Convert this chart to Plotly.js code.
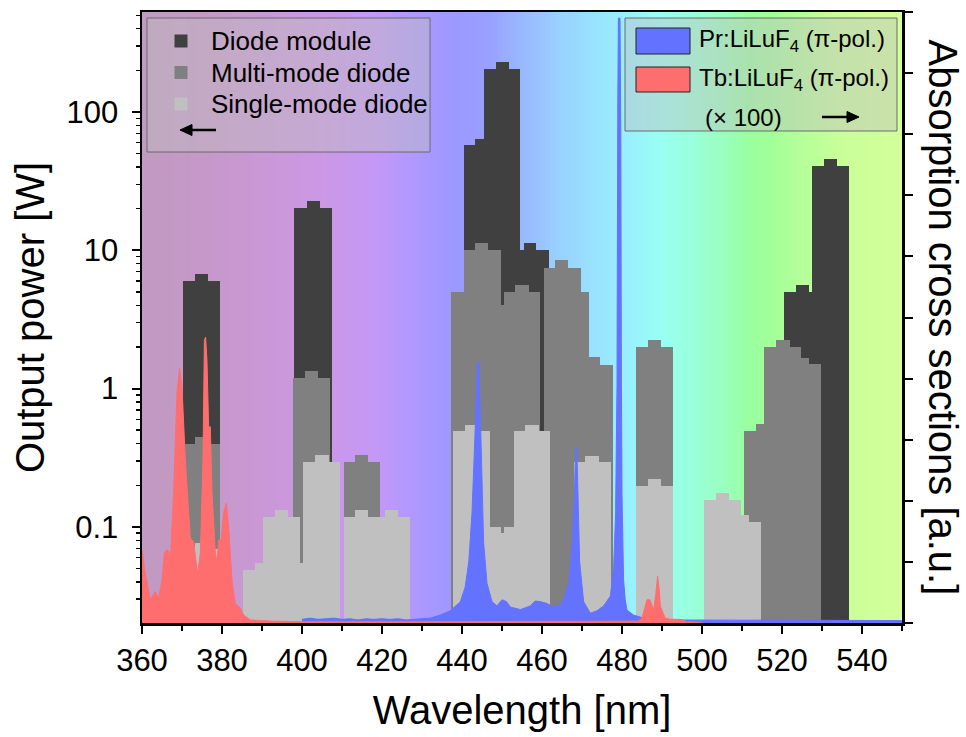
<!DOCTYPE html>
<html><head><meta charset="utf-8">
<script src="https://cdn.plot.ly/plotly-3.0.1.min.js"></script>
<style>html,body{margin:0;padding:0;background:#fff}#chart{width:966px;height:737px}</style>
</head><body><div id="chart"></div>
<script>
// ---------- data ----------
const moduleStart = [370.3, 373.15, 376.6, 398.1, 401.25, 404.6, 440.4, 443.3, 445.4, 448.4, 451.65, 454.6, 455.4, 458.6, 520.6, 523.6, 526.8, 527.5, 530.6, 533.75];
const moduleEnd   = [373.15, 376.6, 379.5, 401.25, 404.6, 407.5, 443.3, 445.4, 448.4, 451.65, 454.6, 455.4, 458.6, 461.7, 523.6, 526.8, 527.5, 530.6, 533.75, 536.8];
const modulePower = [6.0, 6.7, 6.0, 20.3, 22.7, 20.3, 58, 64, 206, 230, 206, 10.0, 11.2, 10.0, 5.0, 5.6, 5.0, 40.9, 45.5, 40.9];

const multiStart = [370.8, 373.15, 376.6, 397.8, 400.75, 404.1, 410.4, 413.3, 416.5, 437.3, 440.4, 443.3, 446.6, 449.7, 450.4, 453.3, 456.65, 460.4, 463.3, 466.6, 469.75, 471.65, 474.5, 483.5, 486.5, 489.75, 510.6, 513.6, 515.6, 518.6, 521.9, 524.8, 526.8];
const multiEnd   = [373.15, 376.6, 379.5, 400.75, 404.1, 407.1, 413.3, 416.5, 419.6, 440.4, 443.3, 446.6, 449.7, 450.4, 453.3, 456.65, 459.6, 463.3, 466.6, 469.75, 471.65, 474.5, 477.65, 486.5, 489.75, 492.75, 513.6, 515.6, 518.6, 521.9, 524.8, 526.8, 529.8];
const multiPower = [0.40, 0.445, 0.40, 1.2, 1.34, 1.2, 0.296, 0.331, 0.296, 5.0, 10.05, 11.2, 10.05, 4.0, 5.0, 5.6, 5.0, 7.47, 8.45, 7.47, 5.0, 1.68, 1.49, 2.01, 2.24, 2.01, 0.496, 0.552, 2.01, 2.24, 2.01, 1.67, 1.5];

const singleStart = [371.0, 373.15, 376.6, 385.25, 388.3, 390.3, 393.3, 396.5, 399.6, 400.25, 403.3, 406.65, 410.4, 413.3, 416.5, 420.8, 424.0, 437.75, 440.8, 444.15, 447.1, 449.8, 450.4, 452.9, 455.8, 459.15, 467.9, 470.8, 474.15, 483.5, 486.5, 489.75, 500.6, 503.5, 506.8, 509.75, 511.8];
const singleEnd   = [373.15, 376.6, 379.5, 388.3, 390.3, 393.3, 396.5, 399.6, 400.25, 403.3, 406.65, 409.6, 413.3, 416.5, 420.8, 424.0, 427.1, 440.8, 444.15, 447.1, 449.8, 450.4, 452.9, 455.8, 459.15, 462.1, 470.8, 474.15, 477.25, 486.5, 489.75, 492.75, 503.5, 506.8, 509.75, 511.8, 514.8];
const singlePower = [0.069, 0.077, 0.069, 0.049, 0.055, 0.118, 0.132, 0.118, 0.055, 0.296, 0.331, 0.296, 0.118, 0.132, 0.118, 0.132, 0.118, 0.496, 0.547, 0.496, 0.099, 0.091, 0.099, 0.496, 0.547, 0.496, 0.295, 0.328, 0.295, 0.198, 0.221, 0.198, 0.157, 0.175, 0.157, 0.122, 0.109];

const prWavelength = [400, 402, 404, 406, 408, 410, 412, 414, 416, 418, 420, 422, 424, 426, 428, 430, 432.1, 434.6, 437.1, 439.6, 440.8, 441.7, 442.5, 443.2, 443.6, 443.85, 444.25, 444.6, 445.0, 445.4, 446.25, 447.5, 448.75, 450.0, 451.1, 452.1, 454.6, 457.1, 458.3, 459.6, 461.25, 462.9, 465.0, 466.7, 467.5, 468.1, 468.4, 468.7, 469.0, 469.4, 470.4, 472.1, 473.75, 475.4, 477.1, 477.9, 478.4, 478.75, 478.95, 479.1, 479.5, 479.7, 479.85, 480.0, 480.4, 480.8, 481.25, 482.9, 485.4, 488, 491.25, 495, 500, 505, 510, 515, 520, 525, 530, 535, 540, 545, 550];
const prCross = [0.06, 0.08, 0.06, 0.07, 0.08, 0.06, 0.07, 0.05, 0.07, 0.06, 0.07, 0.06, 0.07, 0.05, 0.06, 0.07, 0.08, 0.13, 0.20, 0.35, 0.59, 1.01, 1.80, 3.00, 4.04, 4.27, 4.27, 3.32, 2.10, 1.32, 0.65, 0.35, 0.28, 0.38, 0.35, 0.26, 0.22, 0.28, 0.36, 0.35, 0.32, 0.26, 0.32, 0.65, 1.26, 2.10, 2.86, 2.87, 2.10, 1.01, 0.35, 0.16, 0.20, 0.28, 0.44, 0.89, 1.80, 3.90, 8.50, 9.90, 9.90, 8.00, 4.00, 2.10, 0.70, 0.38, 0.21, 0.13, 0.08, 0.06, 0.05, 0.05, 0.04, 0.05, 0.04, 0.05, 0.04, 0.05, 0.04, 0.05, 0.04, 0.05, 0.04];

const tbWavelength = [360.0, 360.24, 360.6, 361.24, 362.08, 362.7, 363.33, 364.16, 365.0, 365.6, 366.2, 366.7, 367.1, 367.9, 368.74, 369.4, 369.99, 370.83, 371.5, 372.08, 372.9, 373.9, 374.6, 375.24, 375.6, 375.9, 376.24, 376.66, 377.08, 377.5, 378.3, 378.74, 379.16, 379.8, 380.4, 381.07, 381.66, 382.5, 383.3, 384.6, 385.4, 387.1, 392.9, 400, 420, 440, 460, 480, 484, 485.0, 485.6, 486.25, 487.0, 487.9, 488.5, 488.9, 489.3, 489.6, 490.8, 492.0, 494.6, 496.2, 500];
const tbCross = [1.20, 1.11, 0.90, 0.70, 0.38, 0.45, 0.51, 0.41, 0.70, 1.15, 1.20, 1.17, 1.03, 2.13, 3.76, 4.17, 3.87, 2.67, 1.90, 1.39, 1.33, 0.81, 1.15, 2.67, 4.63, 4.68, 4.30, 3.21, 3.21, 2.13, 1.19, 0.98, 1.36, 1.36, 1.80, 1.96, 1.58, 0.70, 0.32, 0.24, 0.13, 0.05, 0.03, 0.02, 0.02, 0.02, 0.02, 0.02, 0.03, 0.08, 0.25, 0.38, 0.38, 0.21, 0.50, 0.77, 0.55, 0.27, 0.08, 0.06, 0.06, 0.02, 0.01];

const yTickValues = [0.1, 1, 10, 100];
const yTickLabels = ['0.1', '1', '10', '100'];
const seriesNames = ['Diode module', 'Multi-mode diode', 'Single-mode diode'];
const crystalNames = ['Pr:LiLuF<sub>4</sub> (π-pol.)', 'Tb:LiLuF<sub>4</sub> (π-pol.)'];

// background spectrum stops
const bgStopWavelength = [360, 375, 390, 405, 418, 428, 438, 446, 455, 465, 475, 482, 490, 498, 505, 512, 518, 526, 534, 550];
const bgStopColor = [[192,154,192],[197,152,200],[202,152,214],[204,152,230],[196,152,246],[176,152,255],[156,152,255],[153,159,255],[153,184,255],[153,210,255],[153,230,255],[153,240,255],[153,255,243],[153,255,218],[153,255,192],[153,255,159],[164,255,153],[184,255,153],[200,255,153],[212,255,153]];

// ---------- build ----------
const FONT = 'Liberation Sans, Arial, sans-serif';
const barColors = ['#404040', '#808080', '#C0C0C0'];
const specColors = ['#6373FF', '#FF6E6E'];
function barTrace(name, s, e, v, color) {
  return {type:'bar', name:name, x:s.map((a,i)=>(a+e[i])/2), width:s.map((a,i)=>e[i]-a), y:v,
    marker:{color:color, line:{width:0}}, hoverinfo:'skip', showlegend:false};
}
function bgColorAt(w) {
  for (let i=0;i<bgStopWavelength.length-1;i++) {
    const a=bgStopWavelength[i], b=bgStopWavelength[i+1];
    if (w>=a && w<=b) {
      const t=(w-a)/(b-a);
      const c=bgStopColor[i].map((v,k)=>Math.round(v+(bgStopColor[i+1][k]-v)*t));
      return 'rgb('+c.join(',')+')';
    }
  }
  return 'rgb('+bgStopColor[bgStopColor.length-1].join(',')+')';
}
const shapes=[];
for (let w=360; w<550; w+=1) {
  shapes.push({type:'rect', xref:'x', yref:'paper', x0:w, x1:w+1.05, y0:0, y1:1, fillcolor:bgColorAt(w+0.5), line:{width:0}, layer:'below'});
}
// plot-area geometry helpers (paper coords from pixel layout)
const L=142, R=902, T=12, B=623;
const px=p=>(p-L)/(R-L), py=p=>(B-p)/(B-T);
const box=(x0,x1,y0,y1,fill,lc,lw)=>({type:'rect', xref:'paper', yref:'paper', x0:px(x0), x1:px(x1), y0:py(y1), y1:py(y0), fillcolor:fill, line:{color:lc, width:lw}, layer:'above'});
const arrow=(xTail,xTip,y)=>{
  const d=Math.sign(xTip-xTail);
  const base=xTip-d*12;
  return [
    {type:'line', xref:'paper', yref:'paper', x0:px(xTail), x1:px(base), y0:py(y), y1:py(y), line:{color:'#000', width:2.5}, layer:'above'},
    {type:'path', xref:'paper', yref:'paper', path:'M'+px(base)+','+py(y-5.5)+' L'+px(xTip)+','+py(y)+' L'+px(base)+','+py(y+5.5)+' Z', fillcolor:'#000', line:{color:'#000', width:1}, layer:'above'}
  ];
};
// legend boxes
shapes.push(box(147,430,18,152,'rgba(190,190,190,0.45)','#6a6a6a',1));
shapes.push(box(625,897,18,131,'rgba(190,190,190,0.45)','#6a6a6a',1));
const legendRowY=[41,72.5,104];
barColors.forEach((c,i)=>shapes.push(box(174.5,187.5,legendRowY[i]-6.5,legendRowY[i]+6.5,c,c,0)));
shapes.push(box(636,690,28,54,specColors[0],'#222',1));
shapes.push(box(636,690,67,92,specColors[1],'#222',1));
arrow(216,180,130).forEach(s=>shapes.push(s));
arrow(822,859,117).forEach(s=>shapes.push(s));

const data = [
  barTrace(seriesNames[0], moduleStart, moduleEnd, modulePower, barColors[0]),
  barTrace(seriesNames[1], multiStart, multiEnd, multiPower, barColors[1]),
  barTrace(seriesNames[2], singleStart, singleEnd, singlePower, barColors[2]),
  {type:'scatter', mode:'lines', name:crystalNames[0], x:prWavelength, y:prCross, yaxis:'y2', fill:'tozeroy', fillcolor:specColors[0], line:{color:specColors[0], width:1}, showlegend:false, hoverinfo:'skip'},
  {type:'scatter', mode:'lines', name:crystalNames[1], x:tbWavelength, y:tbCross, yaxis:'y2', fill:'tozeroy', fillcolor:specColors[1], line:{color:specColors[1], width:1}, showlegend:false, hoverinfo:'skip'}
];

const annotations = [
  {xref:'paper', yref:'paper', x:1.0+(943-R)/(R-L), y:0.5, text:'Absorption cross sections [a.u.]', textangle:90, showarrow:false,
    font:{size:40, family:FONT}, xanchor:'center', yanchor:'middle'},
  {xref:'paper', yref:'paper', x:px(697), y:py(41), text:crystalNames[0], showarrow:false, xanchor:'left', yanchor:'middle', font:{size:24, family:FONT}},
  {xref:'paper', yref:'paper', x:px(697), y:py(80), text:crystalNames[1], showarrow:false, xanchor:'left', yanchor:'middle', font:{size:24, family:FONT}},
  {xref:'paper', yref:'paper', x:px(703), y:py(117), text:'(× 100)', showarrow:false, xanchor:'left', yanchor:'middle', font:{size:24, family:FONT}}
];
seriesNames.forEach((n,i)=>annotations.push({xref:'paper', yref:'paper', x:px(209), y:py(legendRowY[i]), text:n, showarrow:false, xanchor:'left', yanchor:'middle', font:{size:26, family:FONT}}));

const layout = {
  width:966, height:737, margin:{l:L, r:966-R, t:T, b:737-B},
  paper_bgcolor:'#ffffff', plot_bgcolor:'rgba(0,0,0,0)',
  barmode:'overlay', bargap:0, showlegend:false,
  font:{family:FONT, color:'#000'},
  xaxis:{range:[360,550], dtick:20, tick0:360, ticks:'outside', ticklen:8, tickwidth:2, tickcolor:'#000',
    showline:true, linewidth:2.5, linecolor:'#000', mirror:true, showgrid:false, zeroline:false,
    tickfont:{size:31, family:FONT}, minor:{dtick:10, ticks:'outside', ticklen:5, tickwidth:2, tickcolor:'#000'},
    title:{text:'Wavelength [nm]', font:{size:40, family:FONT}, standoff:20}},
  yaxis:{type:'log', range:[-1.695, 2.723], tickvals:yTickValues, ticktext:yTickLabels, ticks:'outside', ticklen:8, tickwidth:2,
    tickcolor:'#000', showline:true, linewidth:2.5, linecolor:'#000', showgrid:false, zeroline:false, ticklabelstandoff:7,
    tickfont:{size:31, family:FONT}, minor:{dtick:'D1', ticks:'outside', ticklen:4, tickwidth:1.5, tickcolor:'#000'},
    title:{text:'Output power [W]', font:{size:40, family:FONT}, standoff:10}},
  yaxis2:{overlaying:'y', side:'right', range:[0,10], dtick:1, ticks:'outside', ticklen:8, tickwidth:2, tickcolor:'#000',
    showticklabels:false, showline:true, linewidth:2.5, linecolor:'#000', showgrid:false, zeroline:false},
  shapes:shapes,
  annotations:annotations
};
Plotly.newPlot('chart', data, layout, {displayModeBar:false, staticPlot:true});
</script></body></html>
